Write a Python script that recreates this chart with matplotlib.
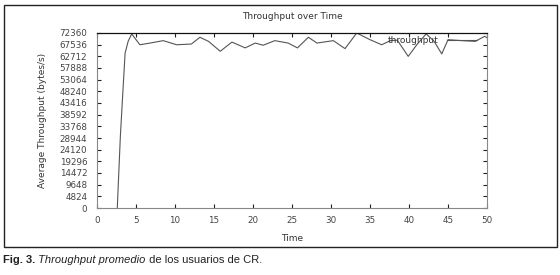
import matplotlib
matplotlib.use("Agg")
import matplotlib.pyplot as plt
from matplotlib.patches import Rectangle

# Data
time = [2.6, 3.0, 3.6, 4.0, 4.45, 5.5, 6.8, 8.5, 10.2, 12.1, 13.2, 14.3, 15.8, 17.3,
        19.0, 20.3, 21.3, 22.8, 24.5, 25.7, 27.1, 28.2, 30.3, 31.8, 33.3, 35.0, 36.5,
        37.6, 38.5, 39.9, 41.0, 42.2, 43.2, 44.2, 45.0, 46.8, 48.5, 49.7, 50.0]
throughput = [0, 30000, 64000, 69000, 71950, 67500, 68200, 69200, 67500, 67800, 70600,
              68900, 64800, 68600, 66200, 68200, 67300, 69200, 68200, 66200, 70600, 68200,
              69200, 65900, 72360, 69600, 67500, 69200, 69400, 62700, 67500, 72000, 69000,
              63700, 69600, 69200, 68900, 71000, 70400]
yticks = [0, 4824, 9648, 14472, 19296, 24120, 28944, 33768, 38592, 43416, 48240,
          53064, 57888, 62712, 67536, 72360]
xticks = [0, 5, 10, 15, 20, 25, 30, 35, 40, 45, 50]

W, H = 560, 275
fig = plt.figure(figsize=(W / 100, H / 100), dpi=100)
fig.patch.set_facecolor("white")

def fx(px):
    return px / W

def fy(py):
    return 1 - py / H

# outer frame
fig.patches.append(Rectangle((fx(3.5), fy(247)), fx(556.5) - fx(3.5), fy(5) - fy(247),
                             transform=fig.transFigure, fill=False, edgecolor="#222222",
                             linewidth=1.0))

ax = fig.add_axes([fx(97), fy(208), fx(487) - fx(97), fy(33) - fy(208)])
ax.plot(time, throughput, color="#555555", linewidth=0.8, label="throughput")
ax.set_xlim(0, 50)
ax.set_ylim(0, 72360)
ax.set_xticks(xticks)
ax.set_yticks(yticks)
ax.set_xticklabels([str(v) for v in xticks])
ax.set_yticklabels([str(v) for v in yticks])
ax.tick_params(direction="in", length=3, width=0.8, color="#222222",
               labelsize=6.3, labelcolor="#444444", top=True, right=True)
ax.tick_params(axis="y", pad=7)
ax.tick_params(axis="x", pad=6)
for s in ["left", "bottom", "right"]:
    ax.spines[s].set_color("#888888")
    ax.spines[s].set_linewidth(0.8)
ax.spines["top"].set_color("#111111")
ax.spines["top"].set_linewidth(0.9)

ax.set_title("Throughput over Time", fontsize=6.5, color="#333333", pad=10)
ax.set_xlabel("Time", fontsize=6.5, color="#333333", labelpad=6)
ax.set_ylabel("Average Throughput (bytes/s)", fontsize=6.5, color="#333333", labelpad=9)

leg = ax.legend(loc="center right", bbox_to_anchor=(0.975, 0.955), frameon=False,
                markerfirst=False, handlelength=3.3, handletextpad=1.0, borderpad=0,
                borderaxespad=0, fontsize=6.5)
for t in leg.get_texts():
    t.set_color("#333333")

# caption with mixed styles
pieces = [("Fig. 3.", "normal", "bold"), (" Throughput promedio", "italic", "normal"),
          (" de los usuarios de CR.", "normal", "normal")]
fig.canvas.draw()
renderer = fig.canvas.get_renderer()
x = fx(3)
for txt, style, weight in pieces:
    t = fig.text(x, fy(260), txt, fontsize=8, family="Liberation Sans", style=style,
                 weight=weight, color="#222222", va="center", ha="left")
    bb = t.get_window_extent(renderer=renderer)
    x += bb.width / (W)

fig.savefig("out.png", dpi=100, facecolor="white")
